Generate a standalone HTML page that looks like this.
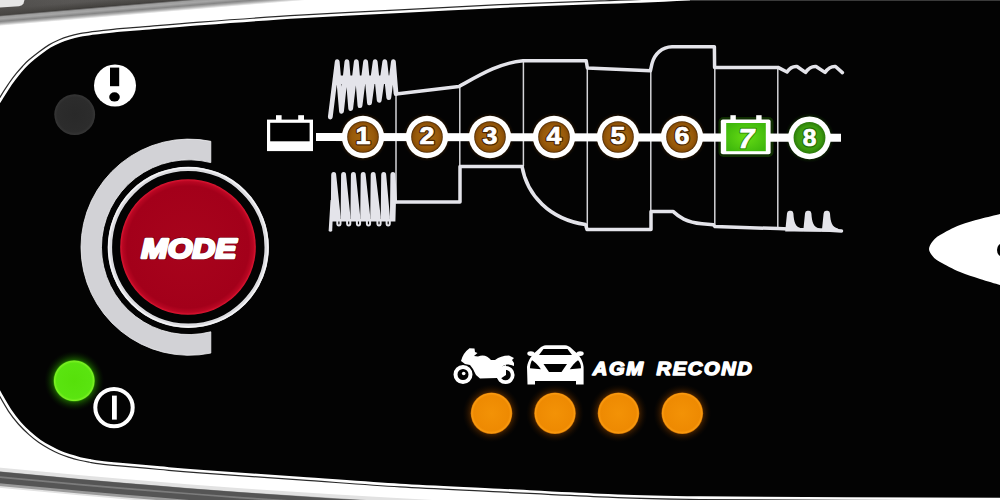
<!DOCTYPE html>
<html><head><meta charset="utf-8">
<style>
html,body{margin:0;padding:0;background:#fff;}
body{width:1000px;height:500px;overflow:hidden;font-family:"Liberation Sans",sans-serif;}
svg{display:block;}
</style></head><body>
<svg width="1000" height="500" viewBox="0 0 1000 500">
<defs>
<radialGradient id="gRed" cx="0.5" cy="0.5" r="0.5">
<stop offset="0" stop-color="#a8041c"/><stop offset="0.9" stop-color="#a3001a"/><stop offset="0.965" stop-color="#b80622"/><stop offset="1" stop-color="#e01632"/>
</radialGradient>
<radialGradient id="gBrown" cx="0.5" cy="0.5" r="0.5">
<stop offset="0" stop-color="#a66a12"/><stop offset="0.7" stop-color="#985a0a"/><stop offset="0.9" stop-color="#8a4e06"/><stop offset="1" stop-color="#4a2600"/>
</radialGradient>
<radialGradient id="gGreen8" cx="0.5" cy="0.5" r="0.5">
<stop offset="0" stop-color="#46a812"/><stop offset="0.75" stop-color="#3c9a0e"/><stop offset="1" stop-color="#2a7a08"/>
</radialGradient>
<radialGradient id="gGreen7" cx="0.5" cy="0.5" r="0.6">
<stop offset="0" stop-color="#66dc14"/><stop offset="1" stop-color="#3fb80c"/>
</radialGradient>
<radialGradient id="gLedGray" cx="0.5" cy="0.5" r="0.5"><stop offset="0" stop-color="#292929"/><stop offset="0.85" stop-color="#2c2c2c"/><stop offset="1" stop-color="#363636"/></radialGradient>
<radialGradient id="gLedG" cx="0.5" cy="0.5" r="0.5">
<stop offset="0" stop-color="#56e00a"/><stop offset="0.85" stop-color="#5ae410"/><stop offset="0.95" stop-color="#7cf024"/><stop offset="1" stop-color="#2e9404"/>
</radialGradient>
<radialGradient id="gLedO" cx="0.5" cy="0.5" r="0.5">
<stop offset="0" stop-color="#f39206"/><stop offset="0.85" stop-color="#ee8a02"/><stop offset="0.95" stop-color="#fa9a10"/><stop offset="1" stop-color="#c06a00"/>
</radialGradient>
<radialGradient id="glowG" cx="0.5" cy="0.5" r="0.5">
<stop offset="0.68" stop-color="#1f6a00" stop-opacity="0.85"/><stop offset="0.85" stop-color="#0f3800" stop-opacity="0.45"/><stop offset="1" stop-color="#061800" stop-opacity="0"/>
</radialGradient>
<radialGradient id="glowO" cx="0.5" cy="0.5" r="0.5">
<stop offset="0.68" stop-color="#5a2c00" stop-opacity="0.85"/><stop offset="0.85" stop-color="#2a1400" stop-opacity="0.5"/><stop offset="1" stop-color="#140a00" stop-opacity="0"/>
</radialGradient>
<radialGradient id="glowG8" cx="0.5" cy="0.5" r="0.5">
<stop offset="0.75" stop-color="#1c5a00" stop-opacity="0.8"/><stop offset="1" stop-color="#0a2000" stop-opacity="0"/>
</radialGradient>
<radialGradient id="glowB" cx="0.5" cy="0.5" r="0.5">
<stop offset="0.75" stop-color="#5a3000" stop-opacity="0.8"/><stop offset="1" stop-color="#201000" stop-opacity="0"/>
</radialGradient>
<linearGradient id="gBand" gradientUnits="userSpaceOnUse" x1="0" y1="-40" x2="0" y2="26">
<stop offset="0" stop-color="#747472"/><stop offset="0.74" stop-color="#585654"/><stop offset="0.82" stop-color="#454340"/><stop offset="0.835" stop-color="#3e3c3a"/><stop offset="0.86" stop-color="#9c9c9c"/><stop offset="0.89" stop-color="#a6a6a6"/><stop offset="0.93" stop-color="#858585"/><stop offset="0.96" stop-color="#b0b0b0"/><stop offset="1" stop-color="#ffffff"/>
</linearGradient>
<linearGradient id="gBandX" gradientUnits="userSpaceOnUse" x1="0" y1="0" x2="300" y2="0">
<stop offset="0" stop-color="#4a4846" stop-opacity="0.6"/><stop offset="0.25" stop-color="#4a4846" stop-opacity="0"/><stop offset="1" stop-color="#8a8a88" stop-opacity="0.4"/>
</linearGradient>
<filter id="blur1" x="-5%" y="-50%" width="110%" height="200%"><feGaussianBlur stdDeviation="0.7"/></filter>
<linearGradient id="gGroove" x1="0" y1="0" x2="0" y2="1">
<stop offset="0" stop-color="#ffffff"/><stop offset="0.2" stop-color="#b8b8b8"/><stop offset="0.4" stop-color="#5a5a5a"/><stop offset="0.6" stop-color="#6a6a6a"/><stop offset="0.85" stop-color="#c8c8c8"/><stop offset="1" stop-color="#ffffff"/>
</linearGradient>
</defs>
<rect width="1000" height="500" fill="#ffffff"/>
<!-- top-left chrome band -->
<g id="topband">
<g transform="rotate(-4.8)">
<rect x="-10" y="-40" width="420" height="66" fill="url(#gBand)"/>
<rect x="-10" y="-40" width="420" height="55.5" fill="url(#gBandX)"/>
</g>
<path d="M0,0 L24.5,0 L23.5,3.5 Q22.5,5.8 19,6.2 L0,7.6 Z" fill="#e6e6e6"/>
</g>
<!-- bottom groove -->
<g id="groove" fill="none" filter="url(#blur1)">
<path d="M-12.0,476.5 C-10.0,476.7 -15.3,476.2 0.0,477.7 C15.3,479.1 53.3,482.8 80.0,485.2 C106.7,487.6 133.3,489.8 160.0,492.0 C186.7,494.2 210.7,496.1 240.0,498.2 C269.3,500.3 301.0,502.5 336.0,504.6 C371.0,506.7 431.0,509.9 450.0,511.0" stroke="#e2e2e2" stroke-width="20"/>
<path d="M-12.0,477.5 C-10.0,477.7 -15.3,477.2 0.0,478.7 C15.3,480.1 53.3,483.8 80.0,486.2 C106.7,488.6 133.3,490.8 160.0,493.0 C186.7,495.2 210.7,497.1 240.0,499.2 C269.3,501.3 301.0,503.5 336.0,505.6 C371.0,507.7 431.0,510.9 450.0,512.0" stroke="#9a9a9a" stroke-width="14.5"/>
<path d="M-12.0,476.3 C-10.0,476.5 -15.3,476.1 0.0,477.5 C15.3,478.9 53.3,482.6 80.0,485.0 C106.7,487.4 133.3,489.6 160.0,491.8 C186.7,494.0 210.7,495.9 240.0,498.0 C269.3,500.1 301.0,502.3 336.0,504.4 C371.0,506.5 431.0,509.7 450.0,510.8" stroke="#555555" stroke-width="11.5"/>
<path d="M-12.0,475.9 C-10.0,476.1 -15.3,475.6 0.0,477.1 C15.3,478.5 53.3,482.2 80.0,484.6 C106.7,487.0 133.3,489.2 160.0,491.4 C186.7,493.6 210.7,495.5 240.0,497.6 C269.3,499.7 301.0,501.9 336.0,504.0 C371.0,506.1 431.0,509.3 450.0,510.4" stroke="#7c7c7c" stroke-width="1.6"/>
</g>
<!-- black panel -->
<path id="panelOut" fill="none" stroke="#2a2a2a" stroke-width="5" d="M-6.0,110.5 C-5.0,108.9 -2.0,104.0 0.0,100.8 C2.0,97.6 4.0,94.3 6.0,91.2 C8.0,88.1 10.0,85.0 12.0,82.2 C14.0,79.4 16.0,76.9 18.0,74.4 C20.0,72.0 22.0,69.7 24.0,67.5 C26.0,65.3 27.3,63.8 30.0,61.5 C32.7,59.2 36.7,56.0 40.0,53.5 C43.3,51.0 46.7,48.5 50.0,46.5 C53.3,44.5 56.7,42.9 60.0,41.5 C63.3,40.1 66.7,39.0 70.0,38.0 C73.3,37.0 76.7,36.2 80.0,35.5 C83.3,34.8 86.7,34.5 90.0,34.0 C93.3,33.5 95.0,33.4 100.0,32.8 C105.0,32.2 113.3,31.1 120.0,30.5 C126.7,29.9 126.7,30.1 140.0,29.0 C153.3,27.9 173.3,26.0 200.0,24.0 C226.7,22.0 266.7,19.0 300.0,17.0 C333.3,15.0 366.7,13.5 400.0,11.8 C433.3,10.1 466.7,8.1 500.0,6.6 C533.3,5.1 566.7,3.8 600.0,2.8 C633.3,1.8 660,0.6 690.0,-0.8 C720,-2 740,-3 760.0,-3.5 L1005.0,-4.0 M1005.0,499.0 C954.2,498.8 767.5,498.3 700.0,497.6 C632.5,496.9 633.3,496.3 600.0,495.0 C566.7,493.7 533.3,491.7 500.0,490.0 C466.7,488.3 433.3,487.0 400.0,485.0 C366.7,483.0 333.3,480.3 300.0,478.0 C266.7,475.7 223.3,472.7 200.0,471.0 C176.7,469.3 173.3,468.8 160.0,467.6 C146.7,466.4 130.0,464.9 120.0,464.0 C110.0,463.1 105.0,462.6 100.0,462.0 C95.0,461.4 93.3,461.0 90.0,460.4 C86.7,459.8 83.3,459.2 80.0,458.4 C76.7,457.6 73.3,456.7 70.0,455.6 C66.7,454.5 63.3,453.4 60.0,452.0 C56.7,450.6 53.3,448.8 50.0,447.0 C46.7,445.2 43.3,443.3 40.0,441.0 C36.7,438.7 33.3,436.0 30.0,433.0 C26.7,430.0 23.3,426.8 20.0,423.0 C16.7,419.2 13.3,415.0 10.0,410.0 C6.7,405.0 2.7,397.7 0.0,393.0 C-2.7,388.3 -5.0,383.8 -6.0,382.0"/>
<path id="panelLine" stroke="#fff" stroke-width="2.6" fill="#030303" d="M-6.0,110.5 C-5.0,108.9 -2.0,104.0 0.0,100.8 C2.0,97.6 4.0,94.3 6.0,91.2 C8.0,88.1 10.0,85.0 12.0,82.2 C14.0,79.4 16.0,76.9 18.0,74.4 C20.0,72.0 22.0,69.7 24.0,67.5 C26.0,65.3 27.3,63.8 30.0,61.5 C32.7,59.2 36.7,56.0 40.0,53.5 C43.3,51.0 46.7,48.5 50.0,46.5 C53.3,44.5 56.7,42.9 60.0,41.5 C63.3,40.1 66.7,39.0 70.0,38.0 C73.3,37.0 76.7,36.2 80.0,35.5 C83.3,34.8 86.7,34.5 90.0,34.0 C93.3,33.5 95.0,33.4 100.0,32.8 C105.0,32.2 113.3,31.1 120.0,30.5 C126.7,29.9 126.7,30.1 140.0,29.0 C153.3,27.9 173.3,26.0 200.0,24.0 C226.7,22.0 266.7,19.0 300.0,17.0 C333.3,15.0 366.7,13.5 400.0,11.8 C433.3,10.1 466.7,8.1 500.0,6.6 C533.3,5.1 566.7,3.8 600.0,2.8 C633.3,1.8 660,0.6 690.0,-0.8 C720,-2 740,-3 760.0,-3.5 L1005.0,-4.0 L1005,499  C954.2,498.8 767.5,498.3 700.0,497.6 C632.5,496.9 633.3,496.3 600.0,495.0 C566.7,493.7 533.3,491.7 500.0,490.0 C466.7,488.3 433.3,487.0 400.0,485.0 C366.7,483.0 333.3,480.3 300.0,478.0 C266.7,475.7 223.3,472.7 200.0,471.0 C176.7,469.3 173.3,468.8 160.0,467.6 C146.7,466.4 130.0,464.9 120.0,464.0 C110.0,463.1 105.0,462.6 100.0,462.0 C95.0,461.4 93.3,461.0 90.0,460.4 C86.7,459.8 83.3,459.2 80.0,458.4 C76.7,457.6 73.3,456.7 70.0,455.6 C66.7,454.5 63.3,453.4 60.0,452.0 C56.7,450.6 53.3,448.8 50.0,447.0 C46.7,445.2 43.3,443.3 40.0,441.0 C36.7,438.7 33.3,436.0 30.0,433.0 C26.7,430.0 23.3,426.8 20.0,423.0 C16.7,419.2 13.3,415.0 10.0,410.0 C6.7,405.0 2.7,397.7 0.0,393.0 C-2.7,388.3 -5.0,383.8 -6.0,382.0 Z"/>
<rect x="690" y="0" width="310" height="1" fill="#3a3a3a"/>
<!-- MODE button -->
<g id="mode">
<path d="M210.8,141.3 A108.1,108.1 0 1 0 210.8,353.1 L210.8,331.8 A87.4,87.4 0 1 1 210.8,162.6 Z" fill="#d2d2d6" stroke="#f0f0f2" stroke-width="0.8"/>
<circle cx="188.3" cy="247.3" r="78.4" fill="none" stroke="#dcdce0" stroke-width="4.4"/>
<circle cx="188.3" cy="247.3" r="79.6" fill="none" stroke="#f4f4f6" stroke-width="1.6"/>
<circle cx="188" cy="247" r="67.8" fill="url(#gRed)"/>
<text x="188.8" y="257.8" font-family="Liberation Sans, sans-serif" font-weight="bold" font-style="italic" font-size="28" fill="#fff" stroke="#7a0010" stroke-width="4" stroke-linejoin="round" text-anchor="middle" textLength="95" lengthAdjust="spacingAndGlyphs">MODE</text>
<text x="188.8" y="257.8" font-family="Liberation Sans, sans-serif" font-weight="bold" font-style="italic" font-size="28" fill="#fff" stroke="#fff" stroke-width="2.6" stroke-linejoin="round" text-anchor="middle" textLength="95" lengthAdjust="spacingAndGlyphs">MODE</text>
</g>
<!-- grey LED and warning icon -->
<circle cx="74.7" cy="114.6" r="20.4" fill="url(#gLedGray)"/>
<g id="warn">
<circle cx="115" cy="85.5" r="21" fill="#fff"/>
<rect x="110" y="67.6" width="9.2" height="18.6" fill="#000"/>
<ellipse cx="114.5" cy="96.9" rx="5.3" ry="4.6" fill="#000"/>
</g>
<!-- green LED + power icon -->
<circle cx="74.2" cy="380.8" r="30" fill="url(#glowG)"/>
<circle cx="74.2" cy="380.8" r="20.8" fill="url(#gLedG)"/>
<g id="power">
<circle cx="114" cy="407.6" r="18.7" fill="none" stroke="#fff" stroke-width="4"/>
<rect x="112" y="395.6" width="4.8" height="24" fill="#fff"/>
</g>
<!-- diagram -->
<g id="diagram" fill="none" stroke="#e4e4ea" stroke-linejoin="round" stroke-linecap="round">
<g stroke-width="1.5" stroke="#d4d4d8">
<line x1="396" y1="93" x2="396" y2="201"/>
<line x1="459.8" y1="85" x2="459.8" y2="166"/>
<line x1="523.4" y1="60" x2="523.4" y2="166"/>
<line x1="587.3" y1="68" x2="587.3" y2="229"/>
<line x1="650.8" y1="70" x2="650.8" y2="211"/>
<line x1="714.8" y1="67" x2="714.8" y2="225"/>
<line x1="777.8" y1="67" x2="777.8" y2="229"/>
</g>
<path stroke-width="4.8" d="M330.3,117 L337.2,61.7 L341.5,111.3 L346.9,61.7 L350.7,108.5 L356.3,61.7 L360,105.7 L365.6,61.7 L369.5,102.9 L375.2,61.7 L379.2,100.3 L384.8,61.7 L388.8,97.7 L393.4,61.7 L396,93.5"/>
<path stroke-width="3.5" d="M396,94 L459,86.5 C478,76 500,62.5 523,60.8 L586.2,60.8 L587.4,68 L650.4,70.8 L652,63.6 C654.5,54 662,47 672,46.8 L714.4,46.8 L714.6,67.4 L778,67.4 L787,72 Q791,66 797,66.5 L805.5,72.4 Q810,66 816,66.5 L825,72.4 Q829.5,66 835.5,66.5 L842.4,72.6"/>

<path stroke-width="3.5" d="M396,202 L460,202 L460,166.4 L522,166.4 C527,195 549,219 585.5,224.6 L587,229.6 L651,229.6 L651,211.4 L673,211.4 C679,217 686,222.4 702,223.8 L713.4,224.8 L715,226.6 L778,228.6 L800,229.6 L830,230.2 L841.5,231"/>
</g>
<rect x="335" y="75.5" width="59.5" height="8.5" fill="#e4e4ea"/>
<g id="teeth" fill="#e4e4ea" stroke="none"><path d="M330.7,221.5 L331.2,175 Q331.2,172 333.7,172 Q336.2,172 336.2,175 L340.6,216.5 L340.6,221.5 Z"/><path d="M340.6,221.5 L341.1,175 Q341.1,172 343.6,172 Q346.1,172 346.1,175 L350.4,216.5 L350.4,221.5 Z"/><path d="M350.4,221.5 L350.9,175 Q350.9,172 353.4,172 Q355.9,172 355.9,175 L360.2,216.5 L360.2,221.5 Z"/><path d="M360.2,221.5 L360.7,175 Q360.7,172 363.2,172 Q365.7,172 365.7,175 L370.2,216.5 L370.2,221.5 Z"/><path d="M370.2,221.5 L370.7,175 Q370.7,172 373.2,172 Q375.7,172 375.7,175 L380.7,216.5 L380.7,221.5 Z"/><path d="M380.7,221.5 L381.2,175 Q381.2,172 383.7,172 Q386.2,172 386.2,175 L389.9,216.5 L389.9,221.5 Z"/><path d="M389.9,221.5 L390.4,175 Q390.4,172 392.9,172 Q395.4,172 395.4,175 L397,200.5 L397,203.5 L395.9,203 L395.4,221.5 Z"/><path d="M328.6,231 L330.6,200 L333.5,200 L332.2,231 Q330.4,232.6 328.6,231 Z"/></g><g fill="none" stroke="#e4e4ea" stroke-width="2"><path d="M337.3,219 L337.3,223.4 Q337.3,225.4 338.9,225.4 Q340.5,225.4 340.5,223.4 L340.5,219"/><path d="M347.1,219 L347.1,223.4 Q347.1,225.4 348.7,225.4 Q350.3,225.4 350.3,223.4 L350.3,219"/><path d="M356.9,219 L356.9,223.4 Q356.9,225.4 358.5,225.4 Q360.1,225.4 360.1,223.4 L360.1,219"/><path d="M366.9,219 L366.9,223.4 Q366.9,225.4 368.5,225.4 Q370.1,225.4 370.1,223.4 L370.1,219"/><path d="M377.4,219 L377.4,223.4 Q377.4,225.4 379.0,225.4 Q380.6,225.4 380.6,223.4 L380.6,219"/><path d="M386.6,219 L386.6,223.4 Q386.6,225.4 388.2,225.4 Q389.8,225.4 389.8,223.4 L389.8,219"/></g>
<g id="pulses" fill="#e4e4ea" stroke="none"><path d="M785.2,231.5 L787.0,213.5 Q787.2,210.8 789.4,210.8 L791.2,210.8 Q793.2,210.8 793.4,213.5 C794.0,222.5 795.4,227 801.4,228.6 L803.4,231.5 Z"/><path d="M803.2,231.5 L805.0,213.5 Q805.2,210.8 807.4,210.8 L809.2,210.8 Q811.2,210.8 811.4,213.5 C812.0,222.5 813.4,227 819.4,228.6 L821.4,231.5 Z"/><path d="M821.8,231.5 L823.6,213.5 Q823.8,210.8 826.0,210.8 L827.8,210.8 Q829.8,210.8 830.0,213.5 C830.6,222.5 832.0,227 838.0,228.6 L840.0,231.5 Z"/></g>
<!-- battery icon -->
<g id="batt">
<rect x="267" y="119.6" width="46" height="31.5" fill="#fff"/>
<rect x="270.2" y="122.8" width="39.4" height="18.5" fill="#000"/>
<rect x="276" y="115.2" width="5.6" height="5" fill="#fff"/>
<rect x="298.2" y="115.2" width="5.8" height="5" fill="#fff"/>
</g>
<!-- main line -->
<!-- numbered circles -->
<g id="glows">
<circle cx="363" cy="137" r="24.5" fill="url(#glowB)"/><circle cx="427" cy="137" r="24.5" fill="url(#glowB)"/><circle cx="490" cy="137" r="24.5" fill="url(#glowB)"/><circle cx="554" cy="137" r="24.5" fill="url(#glowB)"/><circle cx="618" cy="137" r="24.5" fill="url(#glowB)"/><circle cx="682" cy="137" r="24.5" fill="url(#glowB)"/>
<rect x="718.5" y="117" width="55" height="40" rx="5" fill="#1c5a00" opacity="0.5"/><circle cx="809.5" cy="137.8" r="25" fill="url(#glowG8)"/>
</g>
<polygon points="316,133 316,141 841,141.8 841,133.7" fill="#fff"/>
<g id="nums" font-family="Liberation Sans, sans-serif" font-weight="bold" font-size="24.5" text-anchor="middle" fill="#fff" stroke-linejoin="round">
<g><circle cx="363" cy="137" r="21.2" fill="#fff"/><circle cx="363" cy="137" r="15.8" fill="url(#gBrown)"/><text transform="translate(363.0,144.0) scale(1.1,1)" stroke="#4a2400" stroke-width="3">1</text><text transform="translate(363.0,144.0) scale(1.1,1)" stroke="#fff" stroke-width="0.7">1</text></g>
<g><circle cx="427" cy="137" r="21.2" fill="#fff"/><circle cx="427" cy="137" r="15.8" fill="url(#gBrown)"/><text transform="translate(427.0,144.0) scale(1.1,1)" stroke="#4a2400" stroke-width="3">2</text><text transform="translate(427.0,144.0) scale(1.1,1)" stroke="#fff" stroke-width="0.7">2</text></g>
<g><circle cx="490" cy="137" r="21.2" fill="#fff"/><circle cx="490" cy="137" r="15.8" fill="url(#gBrown)"/><text transform="translate(490.0,144.0) scale(1.1,1)" stroke="#4a2400" stroke-width="3">3</text><text transform="translate(490.0,144.0) scale(1.1,1)" stroke="#fff" stroke-width="0.7">3</text></g>
<g><circle cx="554" cy="137" r="21.2" fill="#fff"/><circle cx="554" cy="137" r="15.8" fill="url(#gBrown)"/><text transform="translate(554.0,144.0) scale(1.1,1)" stroke="#4a2400" stroke-width="3">4</text><text transform="translate(554.0,144.0) scale(1.1,1)" stroke="#fff" stroke-width="0.7">4</text></g>
<g><circle cx="618" cy="137" r="21.2" fill="#fff"/><circle cx="618" cy="137" r="15.8" fill="url(#gBrown)"/><text transform="translate(618.0,144.0) scale(1.1,1)" stroke="#4a2400" stroke-width="3">5</text><text transform="translate(618.0,144.0) scale(1.1,1)" stroke="#fff" stroke-width="0.7">5</text></g>
<g><circle cx="682" cy="137" r="21.2" fill="#fff"/><circle cx="682" cy="137" r="15.8" fill="url(#gBrown)"/><text transform="translate(682.0,144.0) scale(1.1,1)" stroke="#4a2400" stroke-width="3">6</text><text transform="translate(682.0,144.0) scale(1.1,1)" stroke="#fff" stroke-width="0.7">6</text></g>
<g>
<rect x="720.8" y="119.4" width="49.8" height="34.8" rx="2" fill="#fff"/>
<rect x="730.4" y="115.2" width="5.4" height="5" fill="#fff"/>
<rect x="756.2" y="115.2" width="5.4" height="5" fill="#fff"/>
<rect x="726.2" y="123" width="39.6" height="28.2" fill="url(#gGreen7)"/>
<text x="746.4" y="148" font-size="28.5" font-style="italic" stroke="#2c8a06" stroke-width="2.6">7</text><text x="746.4" y="148" font-size="28.5" font-style="italic" stroke="#fff" stroke-width="0.7">7</text></g>
<g><circle cx="809.5" cy="137.8" r="21.4" fill="#fff"/><circle cx="809.5" cy="137.8" r="15.9" fill="url(#gGreen8)"/>
<text x="809.5" y="146.4" stroke="#226e04" stroke-width="3">8</text><text x="809.5" y="146.4" stroke="#fff" stroke-width="0.7">8</text></g>
</g>
<!-- icons -->
<g id="moto" fill="#fff">
<circle cx="463" cy="374.5" r="7.5" fill="none" stroke="#fff" stroke-width="4"/>
<circle cx="505.5" cy="375" r="7.2" fill="none" stroke="#fff" stroke-width="3.8"/>
<path d="M461,361 Q463,353 469.5,348.3 L474.5,348.5 L475,352 L477.5,353 L474,356 L478,356.5 C483,354 488,356 491,360 L495,360 C499,357 503,355.5 509,355.5 L514,358 L512,360 L514,363 L514,366 C510,364 506,364 503,366 L497,378 L480,378.5 L476,375 L473,369 L470,365 L465,364 Z"/>
<circle cx="463.7" cy="373.5" r="1.8"/>
<path d="M497,378 L503,366 L506,365 L506,375 L500,379Z"/>
</g>
<g id="car">
<path fill="#fff" d="M527.5,384.5 L527,367 C528,360 532,355 535.5,352 L541,347 C543,345.5 545,345.2 548,345.2 L563,345.2 C566,345.2 568,345.5 570,347 L575.5,352 C579,355 583,360 583.6,367 L583.6,384.5 L576,384.5 L576,381 L535,381 L535,384.5 Z"/>
<ellipse cx="530.8" cy="353.6" rx="3.5" ry="2.4" fill="#fff"/><ellipse cx="580.2" cy="353.6" rx="3.5" ry="2.4" fill="#fff"/>
<rect x="531" y="352.8" width="49" height="2.6" fill="#fff"/>
<path fill="#000" d="M543.5,349 L567.5,349 L572,355 L539,355 Z"/>
<path fill="#000" d="M532,360.3 C535,362 539,366 540.8,369.2 L530,368.2 C530,365 531,362 532,360.3 Z"/>
<path fill="#000" d="M578,360.3 C575,362 572,366 569.8,369.2 L581,368.2 C581,365 580,362 578,360.3 Z"/>
<path fill="#000" d="M543.5,364 L567,364 L561.5,372 L549,372 Z"/>
</g>
<text id="agm" transform="translate(592.8,374.6) scale(1.145,1)" font-family="Liberation Sans, sans-serif" font-weight="bold" font-style="italic" font-size="17.6" letter-spacing="1.4" word-spacing="4.2" fill="#fff" stroke="#fff" stroke-width="1.4" stroke-linejoin="round">AGM RECOND</text>
<!-- orange LEDs -->
<g id="oleds">
<circle cx="491.5" cy="413.2" r="29" fill="url(#glowO)"/><circle cx="491.5" cy="413.2" r="20.8" fill="url(#gLedO)"/>
<circle cx="555" cy="413.2" r="29" fill="url(#glowO)"/><circle cx="555" cy="413.2" r="20.8" fill="url(#gLedO)"/>
<circle cx="618.5" cy="413.2" r="29" fill="url(#glowO)"/><circle cx="618.5" cy="413.2" r="20.8" fill="url(#gLedO)"/>
<circle cx="682.3" cy="413.2" r="29" fill="url(#glowO)"/><circle cx="682.3" cy="413.2" r="20.8" fill="url(#gLedO)"/>
</g>
<!-- right white shape -->
<path d="M1004.0,213.0 C1003.3,213.2 1004.0,213.0 1000.0,214.0 C996.0,215.0 986.7,217.2 980.0,219.0 C973.3,220.8 966.7,222.3 960.0,225.0 C953.3,227.7 944.6,232.2 940.0,235.0 C935.4,237.8 934.3,239.2 932.5,241.5 C930.7,243.8 929.0,246.6 929.0,249.0 C929.0,251.4 930.7,253.8 932.5,256.0 C934.3,258.2 935.4,259.3 940.0,262.0 C944.6,264.7 953.3,269.2 960.0,272.0 C966.7,274.8 973.3,276.8 980.0,279.0 C986.7,281.2 996.0,283.8 1000.0,285.0 C1004.0,286.2 1003.3,285.8 1004.0,286.0 Z" fill="#fff"/>
<ellipse cx="1003" cy="250" rx="6" ry="7" fill="#000"/>
</svg>
</body></html>
